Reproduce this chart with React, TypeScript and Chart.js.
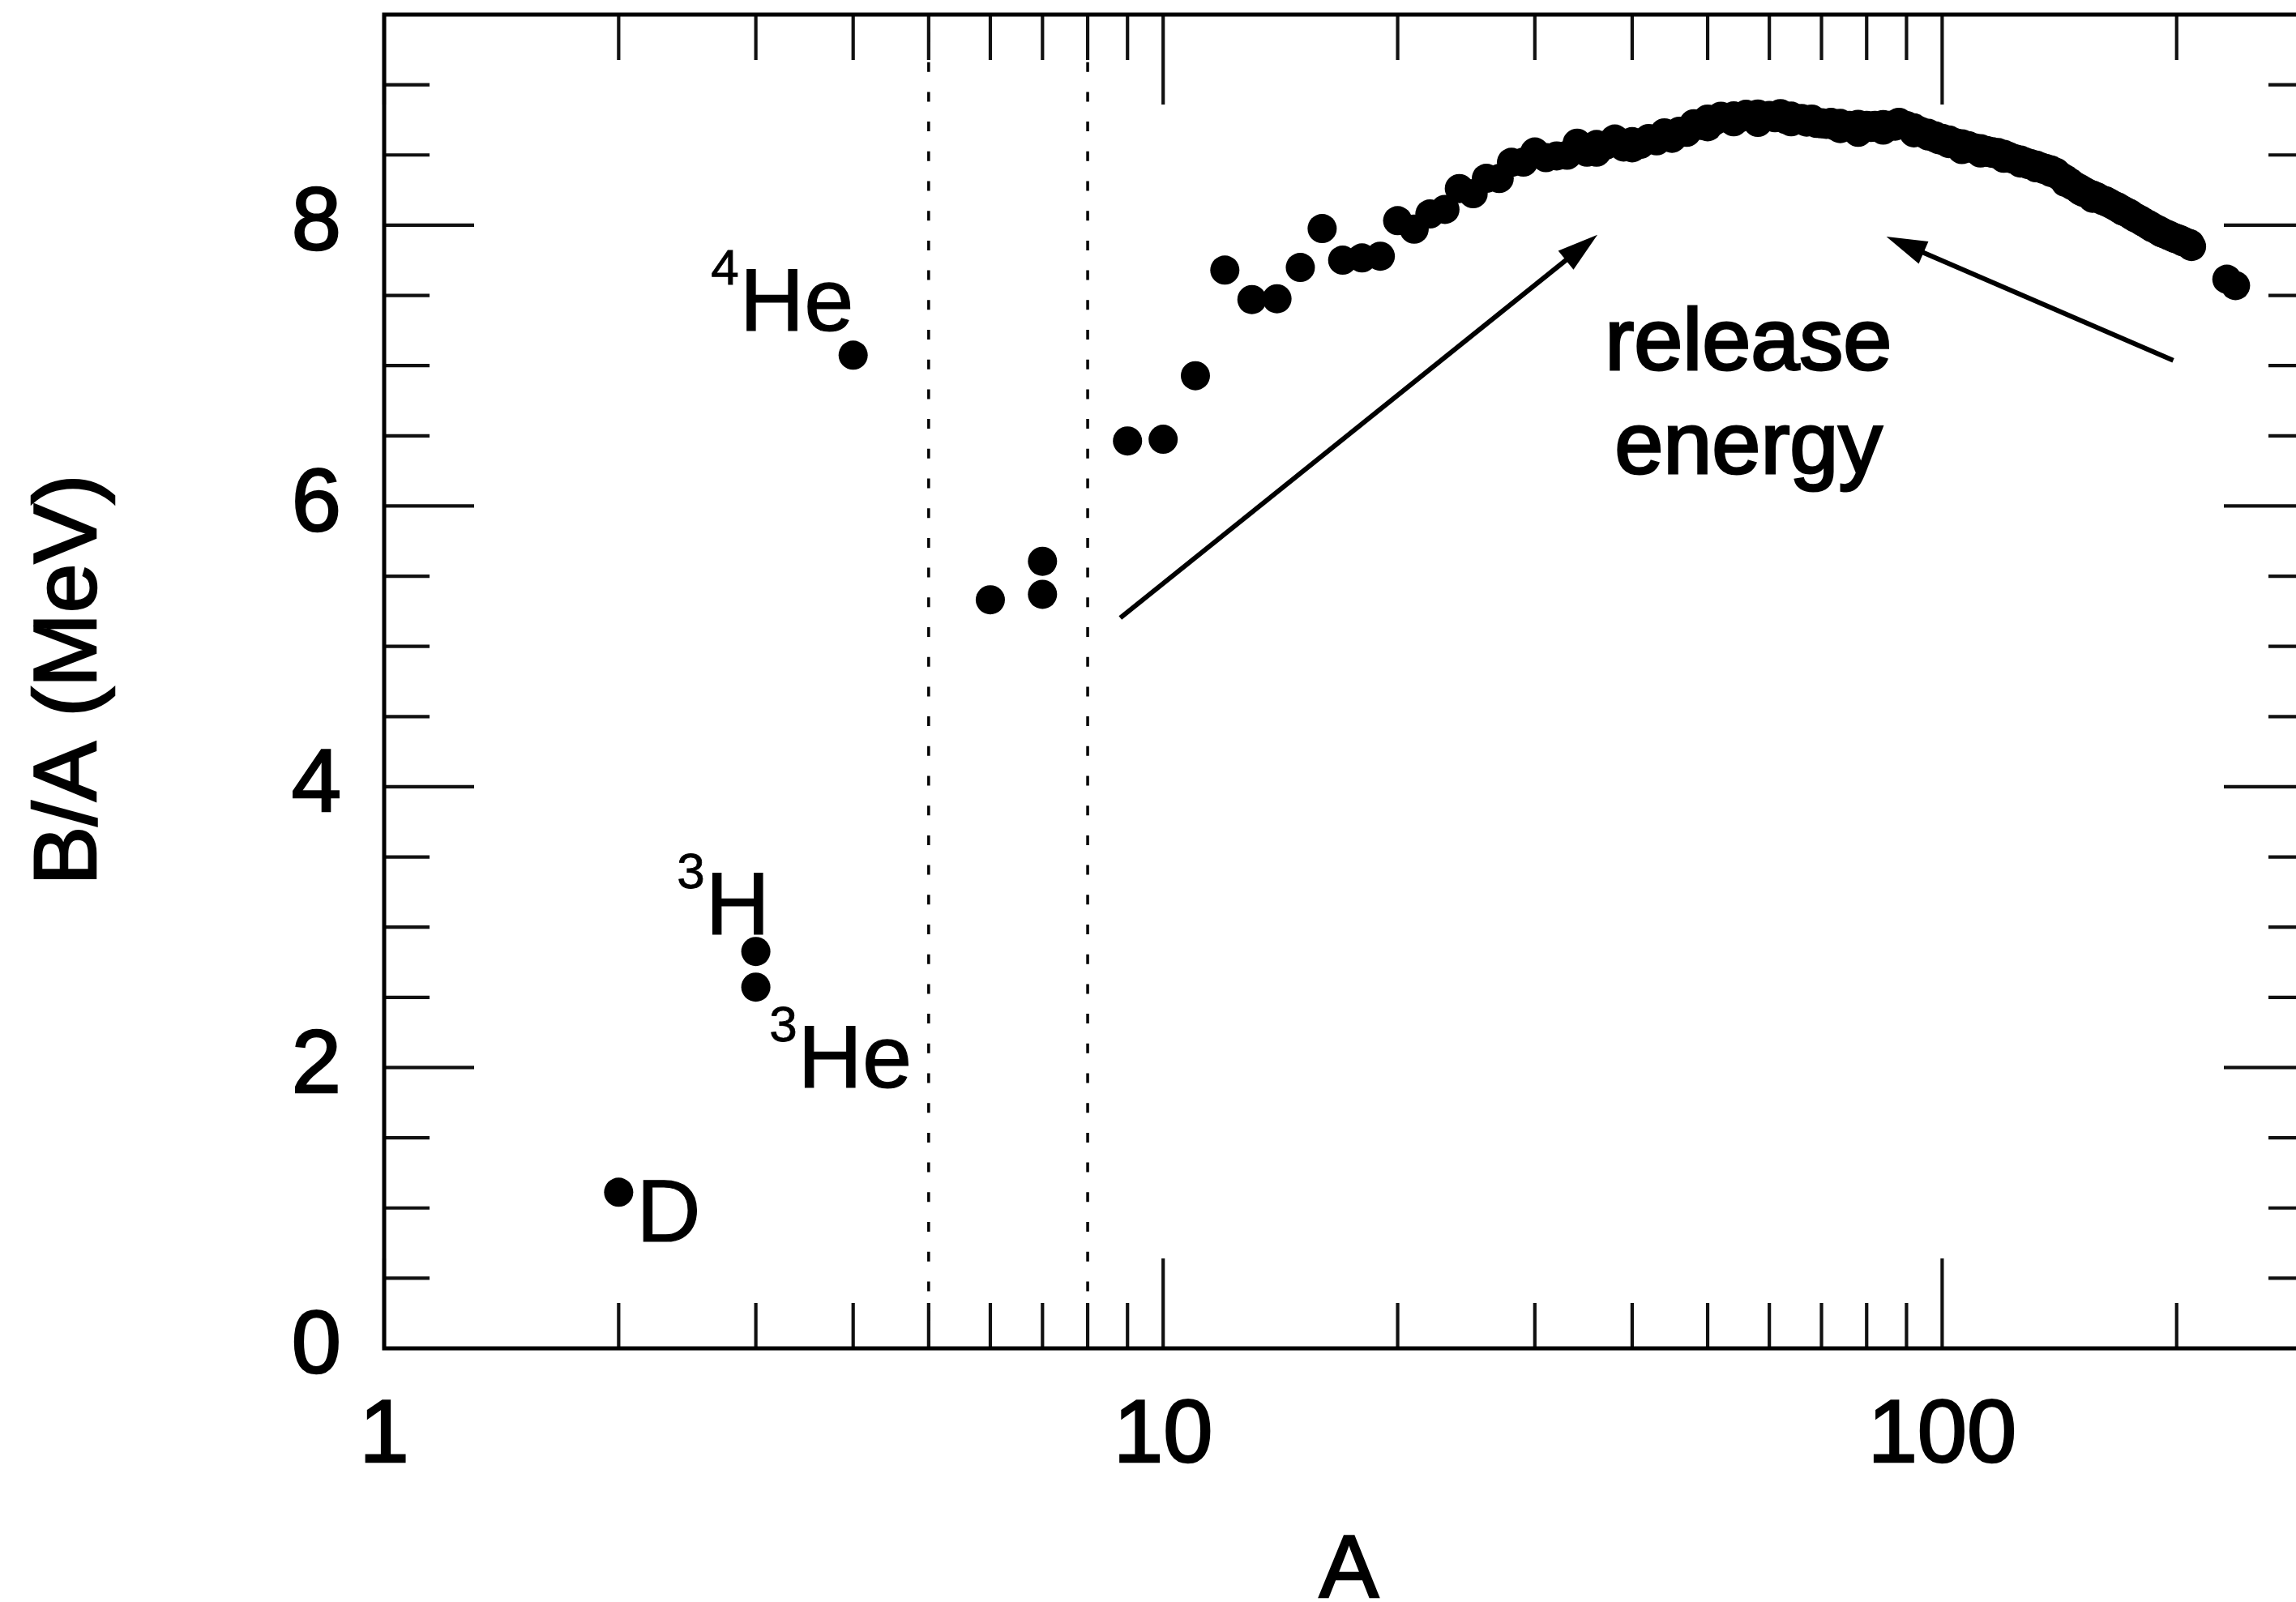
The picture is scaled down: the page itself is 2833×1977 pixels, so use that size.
import React, { useEffect, useRef } from "react";
import { Chart, registerables } from "chart.js";

Chart.register(...registerables);

const FONT = '"Liberation Sans", Arial, Helvetica, sans-serif';

// ---------- data: mass number A and binding energy per nucleon B/A (MeV) ----------
const lightA = [2, 3, 3, 4, 6, 7, 7, 9, 10, 11, 12, 13, 14, 15, 16, 17, 18, 19];
const lightBA = [1.112, 2.827, 2.573, 7.074, 5.332, 5.606, 5.371, 6.463, 6.475, 6.928, 7.68, 7.47, 7.476, 7.699, 7.976, 7.751, 7.767, 7.779];

const sdA = [20, 21, 22, 23, 24, 25, 26, 27, 28, 29, 30, 31, 32, 33, 34, 35, 36, 36, 37, 38, 39];
const sdBA = [8.032, 7.972, 8.08, 8.112, 8.261, 8.224, 8.334, 8.332, 8.448, 8.449, 8.521, 8.481, 8.493, 8.498, 8.584, 8.52, 8.575, 8.52, 8.57, 8.614, 8.557];

const fpA = [40, 40, 41, 42, 43, 44, 45, 46, 46, 47, 48, 49, 50, 50, 51, 52, 53, 54, 54, 55, 56, 57, 58, 58, 59];
const fpBA = [8.595, 8.551, 8.576, 8.617, 8.601, 8.658, 8.619, 8.669, 8.656, 8.661, 8.723, 8.711, 8.756, 8.701, 8.742, 8.776, 8.76, 8.778, 8.736, 8.765, 8.79, 8.77, 8.792, 8.732, 8.768];

const midA = [60, 61, 62, 63, 64, 64, 65, 66, 67, 68, 69, 70, 70, 71, 72, 73, 74, 74, 75, 76, 77, 78, 78, 79, 80, 81, 82, 83, 84, 84, 85, 86, 86, 87, 88, 89, 90, 91, 92, 92, 93, 94, 95, 96, 96, 97, 98, 98, 99];
const midBA = [8.781, 8.765, 8.795, 8.752, 8.777, 8.736, 8.757, 8.76, 8.734, 8.756, 8.725, 8.73, 8.722, 8.718, 8.732, 8.705, 8.725, 8.688, 8.701, 8.711, 8.695, 8.718, 8.661, 8.688, 8.711, 8.696, 8.711, 8.696, 8.717, 8.677, 8.697, 8.712, 8.708, 8.705, 8.733, 8.714, 8.71, 8.693, 8.693, 8.658, 8.664, 8.667, 8.649, 8.654, 8.635, 8.635, 8.635, 8.62, 8.609];

const heavyA = [100, 100, 101, 102, 102, 103, 104, 104, 105, 106, 106, 107, 108, 108, 109, 110, 110, 111, 112, 112, 113, 114, 114, 115, 116, 116, 117, 118, 119, 120, 120, 121, 122, 122, 123, 124, 124, 125, 126, 126, 127, 128, 128, 129, 130, 130, 131, 132, 132, 133, 134, 134, 135, 136, 136, 137, 138, 138, 139, 140, 141, 142, 142, 143, 144, 144, 145, 146, 147, 148, 148, 149];
const heavyBA = [8.619, 8.605, 8.601, 8.607, 8.581, 8.584, 8.587, 8.585, 8.571, 8.58, 8.539, 8.554, 8.567, 8.55, 8.548, 8.551, 8.547, 8.537, 8.545, 8.514, 8.523, 8.532, 8.523, 8.517, 8.523, 8.512, 8.51, 8.517, 8.499, 8.505, 8.477, 8.482, 8.488, 8.478, 8.472, 8.473, 8.467, 8.458, 8.464, 8.443, 8.445, 8.449, 8.443, 8.431, 8.438, 8.43, 8.424, 8.428, 8.409, 8.41, 8.414, 8.408, 8.397, 8.403, 8.396, 8.392, 8.393, 8.375, 8.378, 8.376, 8.354, 8.347, 8.346, 8.33, 8.327, 8.304, 8.309, 8.304, 8.281, 8.28, 8.277, 8.263];

const rareA = [150, 150, 151, 152, 152, 153, 154, 154, 155, 156, 156, 157, 158, 159, 160, 160, 161, 162, 163, 164, 165, 166, 167, 168, 169, 170, 170, 171, 172, 173, 174, 175, 176, 176, 177, 178, 179, 180, 181, 182, 183, 184, 185, 186, 186, 187, 188, 189, 190, 191, 192, 192, 193, 194, 195, 196, 197, 198, 198, 199, 200, 201, 202, 203, 204, 204, 205, 206, 207, 208, 209];
const rareBA = [8.262, 8.25, 8.239, 8.244, 8.233, 8.229, 8.227, 8.225, 8.213, 8.215, 8.192, 8.204, 8.202, 8.189, 8.183, 8.184, 8.173, 8.174, 8.162, 8.159, 8.147, 8.142, 8.132, 8.13, 8.115, 8.112, 8.106, 8.098, 8.097, 8.087, 8.084, 8.069, 8.064, 8.061, 8.052, 8.049, 8.039, 8.035, 8.023, 8.018, 8.008, 8.005, 7.991, 7.989, 7.983, 7.978, 7.974, 7.963, 7.963, 7.948, 7.948, 7.942, 7.938, 7.936, 7.927, 7.927, 7.916, 7.914, 7.912, 7.905, 7.906, 7.898, 7.897, 7.887, 7.886, 7.88, 7.878, 7.875, 7.87, 7.868, 7.848];

const actinideA = [232, 238];
const actinideBA = [7.615, 7.57];

// ---------- axes ----------
const xRange = [1, 300];
const yRange = [0, 9.5];
const xLabelTicks = [1, 10, 100];
const yLabelTicks = [0, 2, 4, 6, 8];
const xMajorMarks = [1, 10, 100];
const xMinorMarks = [2, 3, 4, 5, 6, 7, 8, 9, 20, 30, 40, 50, 60, 70, 80, 90, 200, 300];
const yMajorMarks = [0, 2, 4, 6, 8];
const yMinorMarks = [0.5, 1, 1.5, 2.5, 3, 3.5, 4.5, 5, 5.5, 6.5, 7, 7.5, 8.5, 9, 9.5];
const dividerA = [5, 8];

const xTitle = "A";
const yTitle = "B/A (MeV)";

// ---------- annotations ----------
const nuclideLabels = [
  { sup: "4", text: "He", A: 4, v: 7.074, dx: -140, dy: -30 },
  { sup: "3", text: "H", A: 3, v: 2.827, dx: -62, dy: -21 },
  { sup: "3", text: "He", A: 3, v: 2.573, dx: 52, dy: 124 },
  { sup: "", text: "D", A: 2, v: 1.112, dx: 22, dy: 61 },
];
const noteLines = [
  { text: "release", A: 56.4, v: 6.974 },
  { text: "energy", A: 56.4, v: 6.235 },
];
const arrows = [
  { fromA: 8.81, fromV: 5.203, toA: 36.1, toV: 7.931 },
  { fromA: 198, fromV: 7.037, toA: 84.8, toV: 7.919 },
];

function buildPoints() {
  const groups: [number[], number[]][] = [
    [lightA, lightBA],
    [sdA, sdBA],
    [fpA, fpBA],
    [midA, midBA],
    [heavyA, heavyBA],
    [rareA, rareBA],
    [actinideA, actinideBA],
  ];
  const pts: { x: number; y: number }[] = [];
  for (const [as, bs] of groups) {
    const n = Math.min(as.length, bs.length);
    for (let i = 0; i < n; i++) pts.push({ x: as[i], y: bs[i] });
  }
  return pts;
}

const overlayPlugin = {
  id: "overlay",
  beforeDatasetsDraw(chart: any) {
    const ctx = chart.ctx as CanvasRenderingContext2D;
    const { top, bottom } = chart.chartArea;
    const xs = chart.scales.x;
    ctx.save();
    ctx.strokeStyle = "#000";
    ctx.lineWidth = 3.5;
    ctx.setLineDash([12, 24.7]);
    ctx.lineDashOffset = 14.7;
    for (const a of dividerA) {
      const x = xs.getPixelForValue(a);
      ctx.beginPath();
      ctx.moveTo(x, top);
      ctx.lineTo(x, bottom);
      ctx.stroke();
    }
    ctx.restore();
  },
  afterDatasetsDraw(chart: any) {
    const ctx = chart.ctx as CanvasRenderingContext2D;
    const { left, right, top, bottom } = chart.chartArea;
    const xs = chart.scales.x;
    const ys = chart.scales.y;
    const MAJ = 111;
    const MIN = 56;
    ctx.save();
    ctx.strokeStyle = "#111";
    ctx.lineWidth = 4.2;
    ctx.setLineDash([]);
    const vline = (x: number, y0: number, y1: number) => {
      ctx.beginPath();
      ctx.moveTo(x, y0);
      ctx.lineTo(x, y1);
      ctx.stroke();
    };
    const hline = (y: number, x0: number, x1: number) => {
      ctx.beginPath();
      ctx.moveTo(x0, y);
      ctx.lineTo(x1, y);
      ctx.stroke();
    };
    for (const a of xMajorMarks) {
      const x = xs.getPixelForValue(a);
      vline(x, top, top + MAJ);
      vline(x, bottom, bottom - MAJ);
    }
    for (const a of xMinorMarks) {
      const x = xs.getPixelForValue(a);
      vline(x, top, top + MIN);
      vline(x, bottom, bottom - MIN);
    }
    for (const v of yMajorMarks) {
      const y = ys.getPixelForValue(v);
      hline(y, left, left + MAJ);
      hline(y, right, right - MAJ);
    }
    for (const v of yMinorMarks) {
      const y = ys.getPixelForValue(v);
      hline(y, left, left + MIN);
      hline(y, right, right - MIN);
    }
    ctx.strokeStyle = "#000";
    ctx.lineWidth = 5;
    ctx.strokeRect(left, top, right - left, bottom - top);

    // nuclide labels
    ctx.fillStyle = "#000";
    ctx.strokeStyle = "#000";
    ctx.textBaseline = "alphabetic";
    for (const l of nuclideLabels) {
      const ox = xs.getPixelForValue(l.A) + l.dx;
      const oy = ys.getPixelForValue(l.v) + l.dy;
      ctx.font = `110px ${FONT}`;
      ctx.textAlign = "left";
      ctx.lineWidth = 1.2;
      ctx.fillText(l.text, ox, oy);
      ctx.strokeText(l.text, ox, oy);
      if (l.sup) {
        ctx.font = `62px ${FONT}`;
        ctx.textAlign = "right";
        ctx.lineWidth = 0.8;
        ctx.fillText(l.sup, ox - 1, oy - 57);
        ctx.strokeText(l.sup, ox - 1, oy - 57);
      }
    }

    // release energy note
    ctx.font = `108px ${FONT}`;
    ctx.textAlign = "center";
    ctx.lineWidth = 3;
    for (const n of noteLines) {
      const x = xs.getPixelForValue(n.A);
      const y = ys.getPixelForValue(n.v);
      ctx.fillText(n.text, x, y);
      ctx.strokeText(n.text, x, y);
    }

    // arrows
    for (const a of arrows) {
      const x0 = xs.getPixelForValue(a.fromA);
      const y0 = ys.getPixelForValue(a.fromV);
      const x1 = xs.getPixelForValue(a.toA);
      const y1 = ys.getPixelForValue(a.toV);
      const dx = x1 - x0;
      const dy = y1 - y0;
      const len = Math.hypot(dx, dy);
      const ux = dx / len;
      const uy = dy / len;
      const headLen = 50;
      const headHalf = 15;
      const bx = x1 - ux * headLen;
      const by = y1 - uy * headLen;
      ctx.lineWidth = 6;
      ctx.beginPath();
      ctx.moveTo(x0, y0);
      ctx.lineTo(bx + ux * 4, by + uy * 4);
      ctx.stroke();
      ctx.beginPath();
      ctx.moveTo(x1, y1);
      ctx.lineTo(bx - uy * headHalf, by + ux * headHalf);
      ctx.lineTo(bx + uy * headHalf, by - ux * headHalf);
      ctx.closePath();
      ctx.fill();
    }

    // axis titles
    ctx.font = `110px ${FONT}`;
    ctx.textAlign = "center";
    ctx.lineWidth = 2.5;
    const cx = (left + right) / 2;
    ctx.fillText(xTitle, cx, 1971);
    ctx.strokeText(xTitle, cx, 1971);
    ctx.save();
    ctx.translate(118, (top + bottom) / 2 - 2);
    ctx.rotate(-Math.PI / 2);
    ctx.fillText(yTitle, 0, 0);
    ctx.strokeText(yTitle, 0, 0);
    ctx.restore();

    ctx.restore();
  },
};

export default function App() {
  const ref = useRef<HTMLCanvasElement>(null);
  useEffect(() => {
    const canvas = ref.current;
    if (!canvas) return;
    const tickFont = { family: FONT, size: 110 };
    const chart = new Chart(canvas, {
      type: "scatter",
      data: {
        datasets: [
          {
            data: buildPoints(),
            pointRadius: 18,
            pointHoverRadius: 18,
            pointBackgroundColor: "#000",
            pointBorderColor: "#000",
            pointBorderWidth: 0,
            showLine: false,
          },
        ],
      },
      options: {
        animation: false,
        responsive: false,
        devicePixelRatio: 1,
        events: [],
        layout: { padding: { left: 0, right: 45, top: 17, bottom: 0 } },
        plugins: {
          legend: { display: false },
          tooltip: { enabled: false },
          title: { display: false },
        },
        scales: {
          x: {
            type: "logarithmic",
            position: "bottom",
            min: xRange[0],
            max: xRange[1],
            grid: { display: false, drawTicks: false },
            border: { display: false },
            ticks: {
              font: tickFont,
              color: "#000",
              padding: 44,
              autoSkip: false,
              maxRotation: 0,
              minRotation: 0,
              textStrokeColor: "#000",
              textStrokeWidth: 2.5,
              callback: (v: any) => String(v),
            },
            afterBuildTicks: (s: any) => {
              s.ticks = xLabelTicks.map((v) => ({ value: v }));
            },
            afterFit: (s: any) => {
              s.height = 313;
              s.paddingLeft = 0;
              s.paddingRight = 0;
              s.paddingTop = 0;
              s.paddingBottom = 0;
            },
          },
          y: {
            type: "linear",
            position: "left",
            min: yRange[0],
            max: yRange[1],
            grid: { display: false, drawTicks: false },
            border: { display: false },
            ticks: {
              font: tickFont,
              color: "#000",
              padding: 53,
              textStrokeColor: "#000",
              textStrokeWidth: 2.5,
              callback: (v: any) => String(v),
            },
            afterBuildTicks: (s: any) => {
              s.ticks = yLabelTicks.map((v) => ({ value: v }));
            },
            afterFit: (s: any) => {
              s.width = 474;
              s.paddingLeft = 0;
              s.paddingRight = 0;
              s.paddingTop = 0;
              s.paddingBottom = 0;
            },
          },
        },
      } as any,
      plugins: [overlayPlugin],
    });
    return () => chart.destroy();
  }, []);
  return (
    <div
      style={{
        position: "absolute",
        left: 0,
        top: 0,
        width: 2833,
        height: 1977,
        overflow: "hidden",
        background: "#fff",
      }}
    >
      <canvas ref={ref} width={2900} height={1977} style={{ display: "block", width: 2900, height: 1977 }} />
    </div>
  );
}
